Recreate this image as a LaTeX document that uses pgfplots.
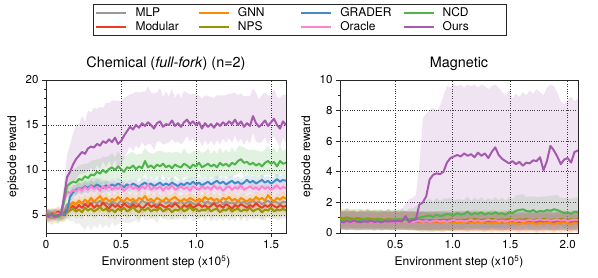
\documentclass[border=0pt]{standalone}
\usepackage{fontspec}
\setmainfont{TeX Gyre Heros}
\usepackage{pgfplots}
\usepackage{pgfplotstable}
\pgfplotsset{compat=1.18}
\usepgfplotslibrary{fillbetween}

\definecolor{cMLP}{RGB}{153,153,153}
\definecolor{cMod}{RGB}{235,60,40}
\definecolor{cGNN}{RGB}{255,140,0}
\definecolor{cNPS}{RGB}{150,150,0}
\definecolor{cGRA}{RGB}{65,140,200}
\definecolor{cORA}{RGB}{255,130,210}
\definecolor{cNCD}{RGB}{80,180,75}
\definecolor{cOUR}{RGB}{165,90,175}

\pgfplotstableread{
x mlp mod gnn nps gra ora ncd ours so sn sm
0.00 5.0 5.0 5.0 5.0 5.0 5.1 5.0 5.1 0.5 0.4 0.4
0.02 5.1 4.8 5.1 4.9 4.9 5.0 5.2 4.9 0.6 0.5 0.5
0.04 4.9 5.2 4.9 4.7 5.1 4.8 4.9 5.0 0.5 0.4 0.4
0.06 5.0 5.0 5.2 5.0 5.0 5.0 5.1 4.8 0.6 0.5 0.5
0.08 5.1 5.4 5.0 4.8 4.8 5.2 4.8 5.0 0.5 0.4 0.4
0.10 4.9 5.1 4.9 5.1 5.1 4.9 5.0 5.1 0.6 0.5 0.5
0.12 5.3 5.2 5.1 5.0 5.0 6.5 6.5 7.0 1.5 0.8 0.6
0.14 6.2 5.6 5.3 5.3 5.4 7.6 8.2 9.2 2.5 1.2 1.5
0.16 6.1 5.8 6.0 5.5 7.0 7.4 8.5 9.8 3.0 1.3 1.8
0.18 6.4 6.0 6.4 5.7 7.5 7.8 8.7 10.6 3.4 1.2 2.0
0.20 6.2 5.7 6.2 5.4 7.8 7.6 8.6 11.2 3.8 1.4 2.2
0.22 6.5 6.1 6.6 5.6 8.0 8.0 9.0 11.6 3.5 1.3 2.4
0.24 6.3 5.8 6.3 5.3 7.9 7.7 8.9 12.0 4.0 1.5 2.6
0.26 6.1 6.2 6.7 5.8 8.2 8.1 9.3 11.8 3.6 1.2 2.8
0.28 6.4 5.9 6.4 5.5 8.0 7.8 9.1 12.4 4.2 1.4 2.5
0.30 6.2 6.3 6.9 5.7 8.3 8.2 9.5 12.6 3.8 1.3 2.9
0.32 6.5 5.8 6.5 5.4 8.1 7.9 9.4 12.5 4.4 1.5 2.6
0.34 6.3 6.1 6.8 5.6 8.4 8.1 9.8 12.9 3.9 1.2 2.8
0.36 6.6 5.9 7.1 5.9 8.2 7.7 9.6 12.7 4.3 1.4 2.5
0.38 6.2 6.4 6.6 5.5 8.0 8.2 10.0 13.2 3.7 1.3 2.7
0.40 6.4 6.0 6.9 5.7 8.3 7.9 9.7 13.0 4.5 1.5 2.4
0.42 6.1 5.7 6.5 5.4 8.1 8.3 10.1 13.4 4.0 1.3 2.6
0.44 6.5 6.2 6.8 5.6 8.4 7.8 10.3 13.1 4.6 1.4 2.3
0.46 6.3 5.9 6.6 5.3 8.2 8.1 10.0 13.6 4.1 1.2 2.5
0.48 6.2 6.1 7.0 5.7 8.5 7.9 10.4 12.9 4.8 1.5 2.2
0.50 6.6 5.8 6.7 5.5 8.3 8.2 10.1 13.2 4.4 1.3 2.4
0.52 6.3 6.3 6.5 5.8 8.1 7.7 9.8 13.8 4.2 1.4 2.1
0.54 6.4 6.0 6.9 5.4 8.4 8.0 10.3 14.3 3.9 1.2 2.3
0.56 6.1 5.8 6.6 5.6 8.2 8.3 10.2 14.8 3.6 1.5 2.0
0.58 6.5 6.2 6.8 5.9 8.5 7.9 10.5 14.5 4.0 1.3 2.2
0.60 6.3 5.9 6.5 5.5 8.3 8.1 10.1 15.0 3.7 1.4 1.9
0.62 6.2 6.1 6.9 5.3 8.1 7.8 10.4 14.7 3.9 1.2 2.1
0.64 6.6 5.7 6.7 5.7 8.4 8.2 10.2 15.2 3.5 1.4 1.8
0.66 6.4 6.0 7.1 5.5 8.6 7.9 11.0 14.9 3.8 1.3 2.0
0.68 6.2 6.3 6.6 5.8 8.3 8.4 10.3 15.3 4.0 1.5 1.7
0.70 6.5 5.9 6.8 5.4 8.5 7.8 10.5 15.0 3.6 1.2 1.9
0.72 6.3 6.1 6.5 5.6 8.2 8.1 10.2 14.6 3.9 1.4 1.8
0.74 6.1 5.8 6.9 5.5 8.4 7.9 10.6 15.2 3.4 1.3 2.0
0.76 6.4 6.2 6.7 5.8 8.6 8.2 10.4 15.4 3.7 1.5 1.7
0.78 6.6 6.0 6.5 5.4 8.3 7.7 10.7 14.8 3.3 1.2 1.9
0.80 6.3 5.8 6.9 5.6 8.5 8.1 10.3 15.1 3.6 1.4 1.8
0.82 6.5 6.1 6.6 5.7 8.3 7.9 10.5 15.0 3.2 1.3 2.0
0.84 6.2 5.9 6.8 5.3 8.6 8.3 10.2 15.5 3.5 1.5 1.7
0.86 6.4 6.3 7.0 5.6 8.4 7.8 10.6 14.9 3.1 1.2 1.9
0.88 6.3 6.0 6.7 5.5 8.2 8.0 10.4 15.2 3.4 1.4 1.8
0.90 6.6 5.7 6.5 5.8 8.5 8.2 10.3 14.8 3.2 1.3 2.0
0.92 6.2 6.1 6.8 5.4 8.3 7.9 10.7 15.3 3.5 1.5 1.7
0.94 6.4 5.9 6.6 5.6 8.6 8.1 10.5 15.6 3.0 1.2 1.9
0.96 6.5 6.2 6.9 5.9 8.4 7.7 10.2 15.1 3.3 1.4 1.8
0.98 6.3 5.8 6.7 5.5 8.7 8.2 10.6 15.4 3.1 1.3 2.0
1.00 6.1 6.0 6.5 5.7 8.4 8.0 10.4 15.0 3.4 1.5 1.7
1.02 6.4 6.2 6.8 5.4 8.6 7.8 10.8 15.3 3.0 1.2 1.9
1.04 6.6 5.9 6.6 5.6 8.3 8.2 10.3 14.6 3.3 1.4 1.8
1.06 6.3 6.1 7.0 5.5 8.5 7.9 10.5 15.2 3.1 1.3 2.0
1.08 6.5 5.8 6.7 5.8 8.7 8.1 10.7 14.8 3.4 1.5 1.7
1.10 6.2 6.0 6.9 5.4 8.4 7.8 10.4 15.1 3.0 1.2 1.9
1.12 6.4 6.3 6.6 5.6 8.6 8.3 10.6 14.7 3.3 1.4 1.8
1.14 6.3 5.9 6.8 5.7 8.8 7.9 10.3 15.2 3.1 1.3 2.0
1.16 6.6 6.1 6.5 5.3 8.5 8.1 10.8 14.9 3.4 1.5 1.7
1.18 6.2 5.8 6.9 5.6 8.7 7.7 10.5 15.3 3.0 1.2 1.9
1.20 6.5 6.2 6.7 5.5 8.4 8.0 10.7 15.0 3.3 1.4 1.8
1.22 6.3 6.0 7.0 5.8 8.6 8.2 10.4 15.4 3.1 1.3 2.0
1.24 6.4 5.7 6.6 5.4 8.8 7.8 10.8 15.1 3.4 1.5 1.7
1.26 6.2 6.1 6.8 5.6 8.5 8.1 10.6 15.6 3.0 1.2 1.9
1.28 6.6 5.9 6.5 5.7 8.7 7.9 11.0 15.0 3.3 1.4 1.8
1.30 6.3 6.2 6.9 5.4 8.4 8.3 11.2 15.4 3.1 1.3 2.0
1.32 6.5 6.0 6.7 5.6 8.6 7.8 10.8 14.8 3.4 1.5 1.7
1.34 6.2 5.8 6.5 5.5 8.9 8.0 10.9 15.2 3.0 1.2 1.9
1.36 6.4 6.1 6.8 5.8 8.6 8.2 10.6 14.9 3.3 1.4 1.8
1.38 6.6 5.9 6.6 5.4 8.8 7.9 10.8 16.0 3.1 1.3 2.0
1.40 6.3 6.3 7.0 5.6 8.5 8.1 10.5 15.2 3.4 1.5 1.7
1.42 6.5 6.0 6.7 5.7 8.7 7.8 10.7 14.8 3.0 1.2 1.9
1.44 6.2 5.8 6.9 5.3 8.9 8.2 10.4 15.1 3.3 1.4 1.8
1.46 6.4 6.1 6.6 5.6 8.6 7.9 10.8 15.5 3.1 1.3 2.0
1.48 6.6 5.9 7.2 5.5 8.8 8.1 11.0 14.9 3.4 1.5 1.7
1.50 6.3 6.2 6.8 5.8 8.5 7.8 10.7 15.3 3.0 1.2 1.9
1.52 6.5 6.0 6.5 5.4 8.7 8.0 10.9 15.7 3.3 1.4 1.8
1.54 6.4 5.8 6.9 5.6 9.0 8.3 10.4 15.0 3.1 1.3 2.0
1.56 6.2 6.1 6.7 5.5 8.7 7.9 11.0 14.6 3.4 1.5 1.7
1.58 6.5 5.9 7.0 5.7 8.9 8.1 10.7 15.4 3.0 1.2 1.9
1.60 6.4 6.0 6.8 5.5 8.8 8.0 10.8 15.0 3.3 1.4 1.8
}\tabChem

\pgfplotstableread{
x mlp mod gnn nps gra ora ncd ours olo ohi sn
0.02 0.85 0.80 0.92 1.00 0.78 0.72 0.85 0.75 0.3 1.5 0.6
0.05 0.80 0.86 0.88 0.95 0.82 0.78 0.80 0.70 0.3 1.4 0.6
0.08 0.88 0.78 0.84 1.02 0.76 0.70 0.90 0.78 0.3 1.6 0.7
0.11 0.82 0.84 0.90 0.96 0.80 0.76 0.82 0.72 0.3 1.4 0.6
0.14 0.78 0.80 0.86 0.92 0.84 0.73 0.88 0.80 0.3 1.5 0.7
0.17 0.84 0.76 0.82 0.98 0.78 0.79 0.80 0.74 0.3 1.3 0.6
0.20 0.80 0.82 0.88 0.94 0.82 0.71 0.86 0.70 0.3 1.5 0.7
0.23 0.86 0.78 0.80 0.90 0.76 0.75 0.92 0.77 0.3 1.4 0.6
0.26 0.82 0.84 0.86 0.96 0.80 0.78 0.84 0.73 0.3 1.6 0.7
0.29 0.78 0.80 0.82 0.92 0.84 0.72 0.88 0.80 0.3 1.4 0.6
0.32 0.84 0.76 0.88 0.88 0.78 0.76 0.82 0.72 0.3 1.5 0.7
0.35 0.80 0.82 0.84 0.94 0.82 0.70 0.90 0.76 0.3 1.3 0.6
0.38 0.86 0.78 0.80 0.90 0.76 0.74 0.85 0.70 0.3 1.5 0.7
0.41 0.82 0.84 0.86 0.86 0.80 0.79 0.80 0.78 0.3 1.4 0.6
0.44 0.78 0.80 0.82 0.92 0.84 0.73 0.88 0.74 0.3 1.6 0.7
0.47 0.84 0.76 0.78 0.88 0.78 0.77 0.84 0.79 0.3 1.4 0.6
0.50 0.80 0.82 0.84 0.84 0.82 0.71 0.92 0.75 0.3 1.5 0.7
0.53 0.86 0.78 0.80 0.90 0.76 0.75 0.86 0.80 0.3 1.4 0.6
0.56 0.82 0.84 0.76 0.86 0.80 0.80 0.90 0.76 0.3 1.6 0.7
0.59 0.78 0.80 0.82 0.82 0.84 0.74 0.84 1.10 0.3 1.9 0.6
0.62 0.84 0.76 0.78 0.88 0.78 0.78 0.88 0.72 0.3 2.2 0.7
0.65 0.80 0.82 0.74 0.84 0.82 0.72 0.92 0.85 0.3 2.3 0.7
0.68 0.86 0.78 0.80 0.80 0.76 0.76 0.95 0.90 0.3 2.5 0.8
0.71 0.82 0.74 0.76 0.86 0.80 0.80 1.00 1.85 0.2 4.4 0.9
0.74 0.78 0.80 0.72 0.82 0.84 0.74 1.05 2.00 0.2 7.5 1.0
0.77 0.84 0.76 0.78 0.78 0.78 0.78 1.10 2.40 0.2 7.8 1.0
0.80 0.80 0.72 0.74 0.84 0.82 0.73 1.15 3.50 0.2 8.0 1.1
0.83 0.86 0.78 0.70 0.80 0.76 0.77 1.05 3.80 0.2 8.2 1.0
0.86 0.82 0.74 0.76 0.86 0.80 0.82 1.20 3.90 0.2 8.0 1.1
0.89 0.78 0.70 0.72 0.82 0.84 0.75 1.10 3.85 0.2 8.3 1.0
0.92 0.84 0.76 0.68 0.88 0.78 0.79 1.15 4.00 0.2 9.0 1.1
0.95 0.80 0.72 0.74 0.84 0.82 0.73 1.25 4.60 0.2 9.6 1.0
0.98 0.76 0.78 0.70 0.90 0.76 0.80 1.20 4.90 0.2 9.5 1.1
1.01 0.82 0.74 0.66 0.86 0.80 0.85 1.15 5.00 0.2 9.7 1.0
1.04 0.78 0.70 0.72 0.82 0.84 0.78 1.30 5.10 0.2 9.6 0.9
1.07 0.84 0.76 0.68 0.88 0.78 0.82 1.20 5.00 0.2 9.7 1.0
1.10 0.80 0.72 0.64 0.84 0.82 0.76 1.25 5.20 0.2 9.5 0.9
1.13 0.76 0.68 0.70 0.90 0.76 0.80 1.40 5.05 0.2 9.7 1.0
1.16 0.82 0.74 0.66 0.86 0.80 0.86 1.20 5.15 0.2 9.6 0.9
1.19 0.78 0.70 0.72 0.92 0.84 0.79 1.30 4.95 0.2 9.7 1.0
1.22 0.84 0.76 0.68 0.88 0.78 0.83 1.25 5.25 0.2 9.5 0.9
1.25 0.80 0.72 0.64 0.84 0.82 0.77 1.35 5.05 0.2 9.7 1.0
1.28 0.76 0.68 0.70 0.90 0.76 0.81 1.20 5.20 0.2 9.6 0.9
1.31 0.82 0.74 0.66 0.86 0.80 0.88 1.30 4.90 0.2 9.4 1.0
1.34 0.78 0.70 0.62 0.92 0.84 0.80 1.25 5.30 0.2 9.6 0.9
1.37 0.84 0.76 0.68 0.88 0.78 0.84 1.35 5.60 0.2 9.7 1.0
1.40 0.80 0.72 0.64 0.84 0.82 0.78 1.25 5.10 0.2 9.5 0.9
1.43 0.76 0.68 0.70 0.90 0.76 0.82 1.30 4.85 0.2 9.2 1.0
1.46 0.82 0.74 0.66 0.86 0.80 0.76 1.20 4.70 0.2 9.0 0.9
1.49 0.78 0.70 0.62 0.92 0.84 0.80 1.35 4.55 0.2 9.4 1.0
1.52 0.84 0.76 0.68 0.88 0.78 0.85 1.30 4.70 0.2 8.8 0.9
1.55 0.80 0.72 0.64 0.84 0.82 0.79 1.45 4.50 0.2 9.1 1.0
1.58 0.76 0.68 0.60 0.90 0.76 0.83 1.50 4.65 0.2 8.9 1.0
1.61 0.82 0.74 0.66 0.86 0.80 0.77 1.55 4.40 0.2 9.2 1.0
1.64 0.78 0.70 0.62 0.92 0.84 0.81 1.45 4.60 0.2 9.0 0.9
1.67 0.84 0.76 0.68 0.88 0.78 0.86 1.40 4.55 0.2 9.3 1.0
1.70 0.80 0.72 0.64 0.84 0.82 0.80 1.50 4.75 0.2 9.1 0.9
1.73 0.76 0.68 0.60 0.90 0.76 0.84 1.35 4.70 0.2 9.4 1.0
1.76 0.82 0.74 0.66 0.86 0.80 0.90 1.45 4.95 0.2 9.2 0.9
1.79 0.78 0.70 0.62 0.92 0.84 0.82 1.40 4.10 0.2 9.0 1.0
1.82 0.84 0.76 0.68 0.88 0.78 0.86 1.50 4.70 0.2 9.5 0.9
1.85 0.80 0.72 0.64 0.84 0.82 0.80 1.45 5.70 0.2 9.7 1.0
1.88 0.76 0.68 0.60 0.90 0.76 0.84 1.55 5.40 0.2 9.6 0.9
1.91 0.82 0.74 0.66 0.86 0.80 0.88 1.50 5.00 0.2 9.2 1.0
1.94 0.78 0.70 0.62 0.92 0.84 0.81 1.40 4.50 0.2 8.6 0.9
1.97 0.84 0.76 0.68 0.88 0.78 0.85 1.30 4.80 0.2 8.4 1.0
2.00 0.80 0.72 0.64 0.84 0.82 0.79 1.35 4.90 0.2 8.7 0.9
2.03 0.76 0.68 0.60 0.90 0.76 0.83 1.25 4.60 0.2 8.9 1.0
2.06 0.82 0.74 0.66 0.86 0.80 0.87 1.40 5.30 0.2 8.6 0.9
2.09 0.78 0.70 0.62 0.92 0.84 0.85 1.35 5.40 0.2 8.8 1.0
}\tabMag

% #1 table, #2 colour, #3 column, #4 upper expr, #5 lower expr, #6 id
\newcommand\series[6]{%
  \addplot[draw=none, forget plot, name path=U#6] table[x=x, y expr={#4}] {#1};
  \addplot[draw=none, forget plot, name path=L#6] table[x=x, y expr={#5}] {#1};
  \addplot[fill=#2, fill opacity=0.17, draw=none, forget plot] fill between[of=U#6 and L#6];
  \addplot[#2, line width=2pt, line join=round, forget plot] table[x=x, y=#3] {#1};
}

\pgfplotsset{
  myax/.style={
    scale only axis, height=153pt,
    axis line style={black!85, line width=0.9pt},
    grid=major,
    major grid style={dotted, black!80, line width=0.7pt},
    tick align=outside, xtick pos=bottom, ytick pos=left,
    major tick length=4pt, minor tick length=2pt,
    tick style={black!85, line width=0.8pt},
    tick label style={font=\fontsize{11.5}{13}\selectfont},
    label style={font=\fontsize{12}{14}\selectfont},
    title style={font=\fontsize{14.4}{16}\selectfont},
    /pgf/number format/assume math mode=true,
    xlabel={Environment step (x10\textsuperscript{5})},
    ylabel={episode reward},
    legend image code/.code={\draw[#1, line width=2.4pt] (0pt,0pt) -- (30pt,0pt);},
  }
}

\begin{document}
\begin{tikzpicture}
\begin{axis}[myax, at={(0,0)}, anchor=south west, width=240pt,
  xmin=0, xmax=1.6, ymin=3, ymax=20,
  xtick={0,0.5,1.0,1.5}, xticklabels={0,0.5,1.0,1.5},
  ytick={5,10,15,20}, yticklabels={5,10,15,20}, minor y tick num=4,
  title={Chemical (\textit{full-fork}) (n=2)},
  legend columns=4, legend cell align=left,
  legend style={at={(1.058,1.392)}, anchor=center, draw=black!85, line width=1pt,
    font=\fontsize{12}{13}\selectfont, inner xsep=2pt, inner ysep=1pt,
    /tikz/every odd column/.append style={column sep=6pt}},
]
\series{\tabChem}{cMLP}{mlp}{\thisrow{mlp}+\thisrow{sm}}{\thisrow{mlp}-\thisrow{sm}}{a}
\series{\tabChem}{cMod}{mod}{\thisrow{mod}+0.6}{\thisrow{mod}-0.6}{b}
\series{\tabChem}{cGNN}{gnn}{\thisrow{gnn}+0.6}{\thisrow{gnn}-0.6}{c}
\series{\tabChem}{cNPS}{nps}{\thisrow{nps}+0.7}{\thisrow{nps}-0.8}{d}
\series{\tabChem}{cGRA}{gra}{\thisrow{gra}+0.6}{\thisrow{gra}-0.6}{e}
\series{\tabChem}{cORA}{ora}{\thisrow{ora}+0.6}{\thisrow{ora}-0.6}{f}
\series{\tabChem}{cNCD}{ncd}{\thisrow{ncd}+1.15*\thisrow{sn}}{\thisrow{ncd}-\thisrow{sn}}{g}
\series{\tabChem}{cOUR}{ours}{\thisrow{ours}+\thisrow{so}}{\thisrow{ours}-0.6*\thisrow{so}}{h}
\addlegendimage{cMLP}\addlegendentry{\makebox[60pt][l]{MLP}}
\addlegendimage{cGNN}\addlegendentry{\makebox[60pt][l]{GNN}}
\addlegendimage{cGRA}\addlegendentry{\makebox[60pt][l]{GRADER}}
\addlegendimage{cNCD}\addlegendentry{\makebox[60pt][l]{NCD}}
\addlegendimage{cMod}\addlegendentry{\makebox[60pt][l]{Modular}}
\addlegendimage{cNPS}\addlegendentry{\makebox[60pt][l]{NPS}}
\addlegendimage{cORA}\addlegendentry{\makebox[60pt][l]{Oracle}}
\addlegendimage{cOUR}\addlegendentry{\makebox[60pt][l]{Ours}}
\end{axis}

\begin{axis}[myax, at={(294pt,0)}, anchor=south west, width=238pt,
  xmin=0.02, xmax=2.09, ymin=0, ymax=10,
  xtick={0.5,1.0,1.5,2.0}, xticklabels={0.5,1.0,1.5,2.0},
  ytick={0,2,4,6,8,10}, yticklabels={0,2,4,6,8,10}, minor y tick num=1,
  title={Magnetic},
]
\series{\tabMag}{cMLP}{mlp}{\thisrow{mlp}+0.6}{\thisrow{mlp}-0.6}{a}
\series{\tabMag}{cMod}{mod}{\thisrow{mod}+0.6}{\thisrow{mod}-0.6}{b}
\series{\tabMag}{cGNN}{gnn}{\thisrow{gnn}+0.6}{\thisrow{gnn}-0.6}{c}
\series{\tabMag}{cNPS}{nps}{\thisrow{nps}+0.6}{\thisrow{nps}-0.6}{d}
\series{\tabMag}{cGRA}{gra}{\thisrow{gra}+0.6}{\thisrow{gra}-0.6}{e}
\series{\tabMag}{cORA}{ora}{\thisrow{ora}+0.5}{\thisrow{ora}-0.5}{f}
\series{\tabMag}{cNCD}{ncd}{\thisrow{ncd}+\thisrow{sn}}{\thisrow{ncd}-\thisrow{sn}}{g}
\series{\tabMag}{cOUR}{ours}{\thisrow{ohi}}{\thisrow{olo}}{h}
\end{axis}
\pgfresetboundingbox
\path[use as bounding box] (-46pt,-44pt) rectangle (552pt,233pt);
\end{tikzpicture}
\end{document}
